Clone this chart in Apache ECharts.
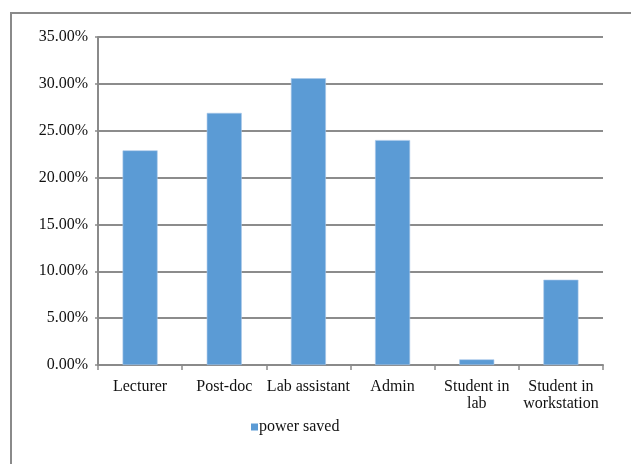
<!DOCTYPE html>
<html>
<head>
<meta charset="utf-8">
<script src="https://cdn.jsdelivr.net/npm/echarts@6/dist/echarts.min.js"></script>
<style>
  html, body { margin: 0; padding: 0; background: #fff; }
  #chart { width: 631px; height: 464px; }
</style>
</head>
<body>
<div id="chart"></div>
<script>
// Share of power saved per user group
const categories = ['Lecturer', 'Post-doc', 'Lab assistant', 'Admin', 'Student in\nlab', 'Student in\nworkstation'];
const powerSaved = [22.9, 26.9, 30.6, 24.0, 0.6, 9.1];
const seriesName = 'power saved';

const serif = '"Liberation Serif", "DejaVu Serif", serif';
const chart = echarts.init(document.getElementById('chart'));

chart.setOption({
  animation: false,
  backgroundColor: '#fff',
  graphic: [{
    type: 'rect',
    shape: { x: 11, y: 13, width: 700, height: 520 },
    style: { fill: 'none', stroke: '#8a8a8a', lineWidth: 2 },
    silent: true,
    z: -1
  }],
  grid: { left: 98, top: 37, right: 28, bottom: 99 },
  legend: {
    data: [seriesName],
    left: 246,
    top: 414,
    itemWidth: 7,
    itemHeight: 7,
    itemGap: 0,
    icon: 'rect',
    itemStyle: { color: '#5b9bd5', borderWidth: 0 },
    textStyle: { fontFamily: serif, fontSize: 16, color: '#111', padding: [0, 0, 0, -4] }
  },
  xAxis: {
    type: 'category',
    data: categories,
    axisLine: { lineStyle: { color: '#8a8a8a', width: 2 } },
    axisTick: { show: true, length: 5, lineStyle: { color: '#8a8a8a', width: 1.5 } },
    axisLabel: { fontFamily: serif, fontSize: 16, color: '#111', margin: 13, lineHeight: 17, interval: 0 }
  },
  yAxis: {
    type: 'value',
    min: 0,
    max: 35,
    interval: 5,
    axisLine: { show: true, lineStyle: { color: '#8a8a8a', width: 2 } },
    axisTick: { show: true, length: 3, lineStyle: { color: '#8a8a8a', width: 1.5 } },
    splitLine: { lineStyle: { color: '#8c8c8c', width: 2 } },
    axisLabel: {
      fontFamily: serif, fontSize: 16, color: '#111', margin: 10,
      formatter: v => v.toFixed(2) + '%'
    }
  },
  series: [{
    name: seriesName,
    type: 'bar',
    data: powerSaved,
    barWidth: 35,
    itemStyle: { color: '#5b9bd5', borderColor: '#a9c8ea', borderWidth: 0.6 }
  }]
});
</script>
</body>
</html>
